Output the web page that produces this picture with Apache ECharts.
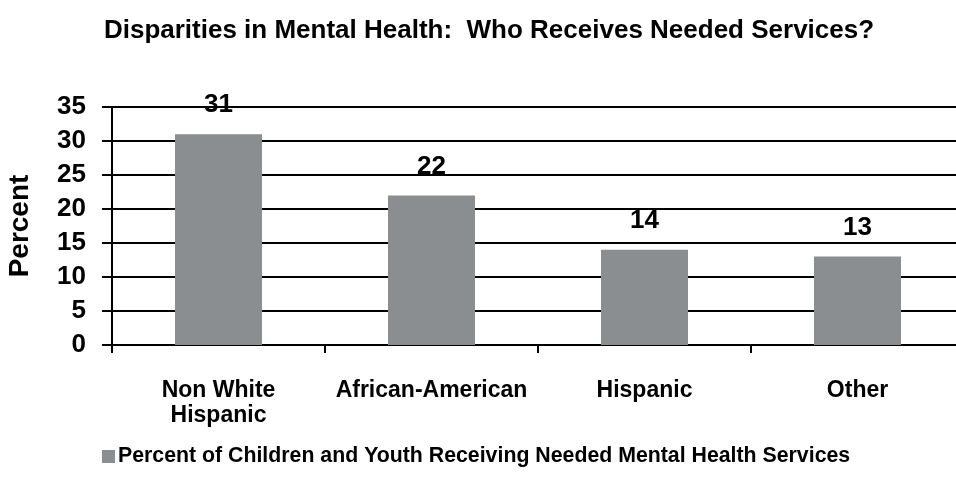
<!DOCTYPE html>
<html><head><meta charset="utf-8">
<script src="https://cdn.jsdelivr.net/npm/echarts@6/dist/echarts.min.js"></script>
<style>html,body{margin:0;padding:0;background:#fff}#c{width:956px;height:487px}</style>
</head><body><div id="c"></div>
<script>
const categories = ['Non White\nHispanic', 'African-American', 'Hispanic', 'Other'];
const values = [31, 22, 14, 13];
const seriesName = 'Percent of Children and Youth Receiving Needed Mental Health Services';
const titleText = 'Disparities in Mental Health:  Who Receives Needed Services?';
const FONT = 'Liberation Sans, Arial, sans-serif';
const chart = echarts.init(document.getElementById('c'));
chart.setOption({
  animation: false,
  title: { text: titleText, left: 484, top: 13, textAlign: 'center',
    textStyle: { fontFamily: FONT, fontWeight: 'bold', fontSize: 26, color: '#000' } },
  legend: { left: 97, top: 441, itemWidth: 13, itemHeight: 13, itemGap: 6,
    icon: 'rect',
    textStyle: { fontFamily: FONT, fontWeight: 'bold', fontSize: 21.3, color: '#000', padding: [0,0,0,-2] },
    data: [seriesName] },
  grid: { left: 112, top: 107, width: 852, height: 238, containLabel: false, outerBoundsMode: 'none' },
  xAxis: { type: 'category', data: categories,
    axisLine: { lineStyle: { color: '#000', width: 2 } },
    axisTick: { show: true, interval: 0, alignWithLabel: false, length: 8, lineStyle: { color: '#000', width: 2 } },
    axisLabel: { interval: 0, hideOverlap: false, fontFamily: FONT, fontWeight: 'bold', fontSize: 23, color: '#000', margin: 33, lineHeight: 25 } },
  yAxis: { type: 'value', min: 0, max: 35, interval: 5,
    name: 'Percent', nameLocation: 'middle', nameGap: 78,
    nameTextStyle: { fontFamily: FONT, fontWeight: 'bold', fontSize: 28, color: '#000' },
    axisLine: { show: true, lineStyle: { color: '#000', width: 2 } },
    axisTick: { show: true, length: 10, lineStyle: { color: '#000', width: 2 } },
    splitLine: { lineStyle: { color: '#000', width: 2 } },
    axisLabel: { fontFamily: FONT, fontWeight: 'bold', fontSize: 26, color: '#000', margin: 26 } },
  series: [{ name: seriesName, type: 'bar', data: values, barWidth: 87,
    itemStyle: { color: '#8a8e90' },
    label: { show: true, position: 'top', distance: 16, fontFamily: FONT, fontWeight: 'bold', fontSize: 26, color: '#000' } }]
});
</script></body></html>
